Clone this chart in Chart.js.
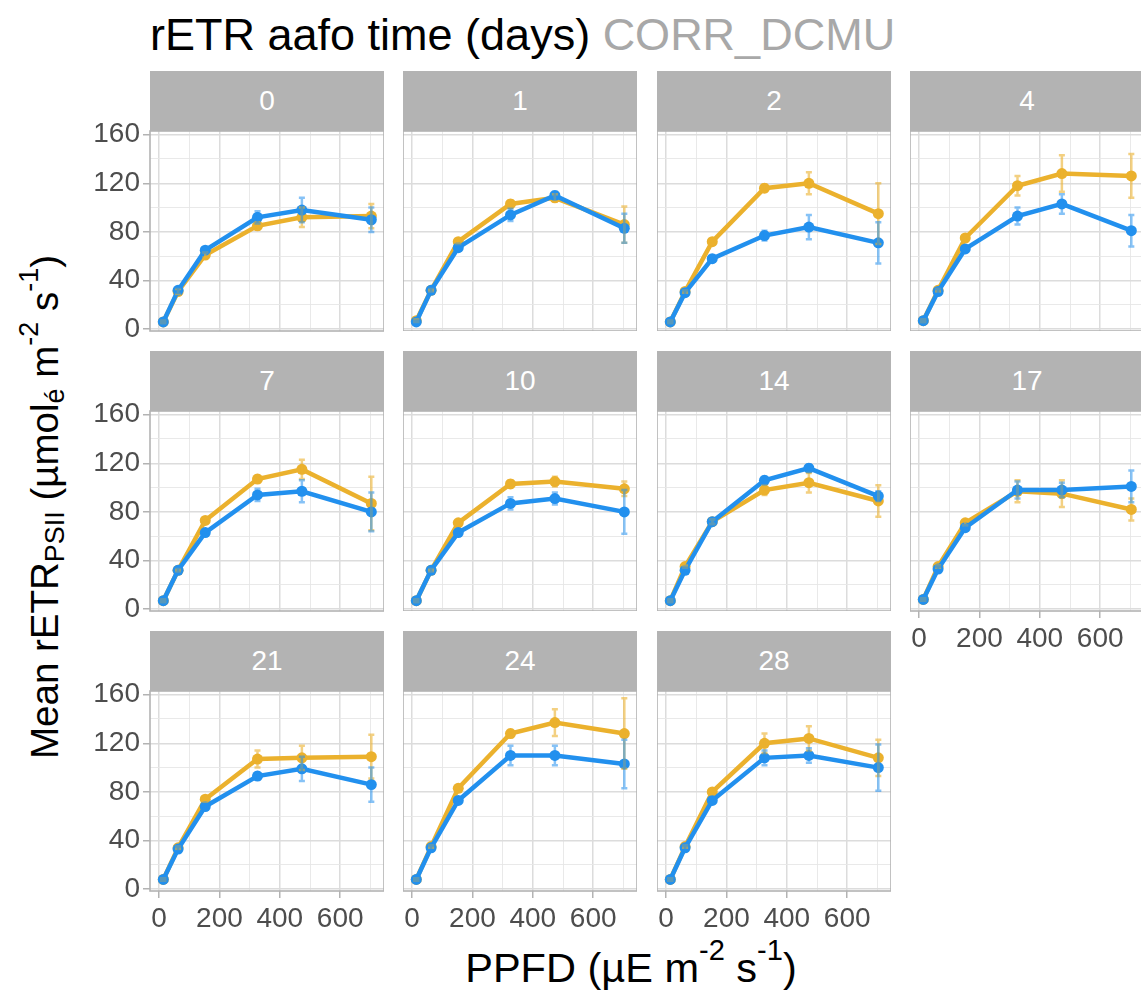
<!DOCTYPE html>
<html>
<head>
<meta charset="utf-8">
<script src="https://cdn.jsdelivr.net/npm/chart.js@4/dist/chart.umd.min.js"></script>
<style>
  html, body { margin: 0; padding: 0; background: #fff; }
  body { position: relative; width: 1141px; height: 1000px; overflow: hidden;
         font-family: "Liberation Sans", Arial, sans-serif; }
  canvas { position: absolute; }
  .strip { position: absolute; background: #B3B3B3; color: #fff; font-size: 28px;
           text-align: center; }
  #title { position: absolute; left: 150px; top: 12px; font-size: 45px; line-height: 1;
           white-space: nowrap; color: #000; }
  #title span { color: #A8A8A8; }
  #xtitle { position: absolute; left: 631px; top: 968px; font-size: 41.5px; line-height: 1;
            white-space: nowrap; transform: translate(-50%, -50%); color: #000; }
  #ytitle { position: absolute; left: 45px; top: 507px; font-size: 38.5px; line-height: 1;
            white-space: nowrap; transform: translate(-50%, -50%) rotate(-90deg); color: #000; }
  sub, sup { font-size: 0.7em; line-height: 0; }
  sub { vertical-align: -0.25em; }
  sup { vertical-align: 0.75em; }
</style>
</head>
<body>
<div id="title">rETR aafo time (days) <span>CORR_DCMU</span></div>
<div id="xtitle">PPFD (µE m<sup>-2</sup> s<sup>-1</sup>)</div>
<div id="ytitle">Mean rETR<sub>PSII</sub> (µmol<sub>é</sub> m<sup>-2</sup> s<sup>-1</sup>)</div>

<script>
// Facet labels: time in days
const days = ['0', '1', '2', '4', '7', '10', '14', '17', '21', '24', '28'];
// Light steps (PPFD)
const ppfd = [14, 63, 153, 326, 473, 703];

// DCMU series (blue): mean rETR and its spread, one row per day
const dcmuMean = [
  [6, 32, 65, 92, 98, 90],
  [6, 32, 67, 94, 110, 83],
  [6, 30, 58, 77, 84, 71],
  [7, 31, 66, 93, 103, 81],
  [7, 32, 63, 94, 97, 80],
  [7, 32, 63, 87, 91, 80],
  [7, 32, 72, 106, 116, 93],
  [8, 33, 67, 98, 98, 101],
  [8, 33, 68, 93, 99, 86],
  [8, 34, 73, 110, 110, 103],
  [8, 34, 73, 108, 110, 100]
];
const dcmuSd = [
  [1, 2, 2, 5, 10, 10],
  [1, 2, 2, 5, 3, 12],
  [1, 2, 2, 4, 10, 17],
  [1, 2, 2, 7, 8, 13],
  [1, 2, 2, 5, 9, 16],
  [1, 2, 2, 5, 5, 18],
  [1, 2, 2, 3, 3, 4],
  [1, 2, 2, 7, 6, 13],
  [1, 2, 2, 3, 10, 14],
  [1, 2, 2, 8, 8, 20],
  [1, 2, 2, 6, 6, 19]
];

// CORR series (orange)
const corrMean = [
  [6, 31, 61, 85, 92, 93],
  [7, 32, 72, 103, 108, 86],
  [6, 31, 72, 116, 120, 95],
  [7, 32, 75, 118, 128, 126],
  [7, 32, 73, 107, 115, 87],
  [7, 32, 71, 103, 105, 99],
  [7, 35, 72, 98, 104, 89],
  [8, 35, 71, 97, 95, 82],
  [8, 34, 74, 107, 108, 109],
  [8, 35, 83, 128, 137, 128],
  [8, 35, 80, 120, 124, 108]
];
const corrSd = [
  [1, 2, 2, 3, 8, 10],
  [1, 1, 2, 3, 3, 15],
  [1, 1, 2, 3, 9, 25],
  [1, 1, 2, 8, 15, 18],
  [1, 1, 2, 3, 8, 22],
  [1, 1, 2, 3, 4, 6],
  [1, 1, 2, 4, 8, 13],
  [1, 1, 2, 9, 11, 9],
  [1, 1, 2, 7, 10, 18],
  [1, 1, 2, 3, 11, 29],
  [1, 1, 2, 8, 10, 15]
];

// Axis ticks (labelled) and minor grid positions
const yMajor = [0, 40, 80, 120, 160];
const yMinor = [20, 60, 100, 140];
const xMajor = [0, 200, 400, 600];
const xMinor = [100, 300, 500, 700];

// ---- styling / layout ----
const BLUE = '#2290EE', ORANGE = '#EBB12D';
const BLUE_BAR = 'rgba(34,144,238,0.55)', ORANGE_BAR = 'rgba(235,177,45,0.6)';
const FONT = '"Liberation Sans", Arial, sans-serif';
const colLeft = [150, 403, 657, 910];
const rowTop = [131, 411, 691];
const plotW = 234, plotH = 200, stripH = 60;
const yAxisW = 60, xAxisH = 52;
const labelRoom = 18;  // space above/below the plot for the outer y tick labels
const capHalf = 10;    // half width of the error-bar caps, in PPFD units

// error bars and panel frame
const panelFrame = {
  id: 'panelFrame',
  afterDatasetsDraw(chart) {
    const { ctx, scales: { x, y } } = chart;
    ctx.save();
    ctx.lineWidth = 2.5;
    [1, 0].forEach(k => {
      const ds = chart.data.datasets[k];
      ctx.strokeStyle = ds.barColor;
      ds.data.forEach((p, j) => {
        const px = x.getPixelForValue(p.x);
        const top = y.getPixelForValue(p.y + ds.sd[j]);
        const bot = y.getPixelForValue(p.y - ds.sd[j]);
        const c0 = x.getPixelForValue(p.x - capHalf), c1 = x.getPixelForValue(p.x + capHalf);
        ctx.beginPath();
        ctx.moveTo(px, top); ctx.lineTo(px, bot);
        ctx.moveTo(c0, top); ctx.lineTo(c1, top);
        ctx.moveTo(c0, bot); ctx.lineTo(c1, bot);
        ctx.stroke();
      });
    });
    ctx.restore();
  },
  afterDraw(chart) {
    const { ctx, chartArea: a } = chart;
    ctx.save();
    ctx.strokeStyle = '#B3B3B3';
    ctx.lineWidth = 1.6;
    ctx.strokeRect(a.left, a.top, a.right - a.left, a.bottom - a.top);
    ctx.restore();
  }
};

function zeroPadding(s) {
  s.paddingLeft = 0; s.paddingRight = 0; s.paddingTop = 0; s.paddingBottom = 0;
}

function gridScale(major, minor, showLabels) {
  const all = major.concat(minor).sort((a, b) => a - b);
  const isMajor = c => c.tick && major.includes(c.tick.value);
  return {
    afterBuildTicks: s => { s.ticks = all.map(v => ({ value: v })); },
    ticks: {
      display: showLabels, autoSkip: false, maxRotation: 0, minRotation: 0,
      color: '#4D4D4D', font: { family: FONT, size: 28 },
      callback: v => (major.includes(v) ? String(v) : '')
    },
    grid: {
      color: c => (isMajor(c) ? '#DCDCDC' : '#E6E6E6'),
      lineWidth: c => (isMajor(c) ? 1.5 : 0.9),
      drawTicks: showLabels, tickLength: 7,
      tickColor: c => (isMajor(c) ? '#B3B3B3' : 'rgba(0,0,0,0)'),
      tickWidth: 1.5
    },
    border: { display: false }
  };
}

days.forEach((day, i) => {
  const row = Math.floor(i / 4), col = i % 4;
  const showY = col === 0;
  const showX = i >= 7;
  const leftPad = showY ? yAxisW : 0;
  const botPad = showX ? xAxisH : 0;
  const padTop = showY ? labelRoom : 0;
  const padBot = showY && !showX ? labelRoom : 0;

  const strip = document.createElement('div');
  strip.className = 'strip';
  strip.textContent = day;
  Object.assign(strip.style, {
    left: colLeft[col] + 'px', top: (rowTop[row] - stripH) + 'px',
    width: plotW + 'px', height: stripH + 'px', lineHeight: stripH + 'px'
  });
  document.body.appendChild(strip);

  const cv = document.createElement('canvas');
  cv.width = plotW + leftPad;
  cv.height = plotH + botPad + padTop + padBot;
  Object.assign(cv.style, {
    left: (colLeft[col] - leftPad) + 'px', top: (rowTop[row] - padTop) + 'px',
    width: cv.width + 'px', height: cv.height + 'px'
  });
  document.body.appendChild(cv);

  const xs = gridScale(xMajor, xMinor, showX);
  xs.type = 'linear'; xs.min = -30; xs.max = 745;
  xs.ticks.padding = 4;
  xs.afterFit = s => { s.height = botPad; zeroPadding(s); };
  const ys = gridScale(yMajor, yMinor, showY);
  ys.type = 'linear'; ys.min = -1.5; ys.max = 163;
  ys.ticks.padding = 3;
  ys.afterFit = s => { s.width = leftPad; zeroPadding(s); };

  new Chart(cv, {
    type: 'line',
    data: {
      datasets: [
        { label: 'DCMU', data: ppfd.map((x, j) => ({ x, y: dcmuMean[i][j] })), sd: dcmuSd[i],
          borderColor: BLUE, backgroundColor: BLUE, pointBackgroundColor: BLUE, barColor: BLUE_BAR },
        { label: 'CORR', data: ppfd.map((x, j) => ({ x, y: corrMean[i][j] })), sd: corrSd[i],
          borderColor: ORANGE, backgroundColor: ORANGE, pointBackgroundColor: ORANGE, barColor: ORANGE_BAR }
      ]
    },
    options: {
      responsive: false, animation: false, devicePixelRatio: 1,
      layout: { padding: { top: padTop, bottom: padBot, left: 0, right: 0 }, autoPadding: false },
      plugins: { legend: { display: false }, tooltip: { enabled: false } },
      elements: {
        line: { borderWidth: 4.5, tension: 0 },
        point: { radius: 5.5, borderWidth: 0, hoverRadius: 5.5 }
      },
      scales: { x: xs, y: ys }
    },
    plugins: [panelFrame]
  });
});
</script>
</body>
</html>
